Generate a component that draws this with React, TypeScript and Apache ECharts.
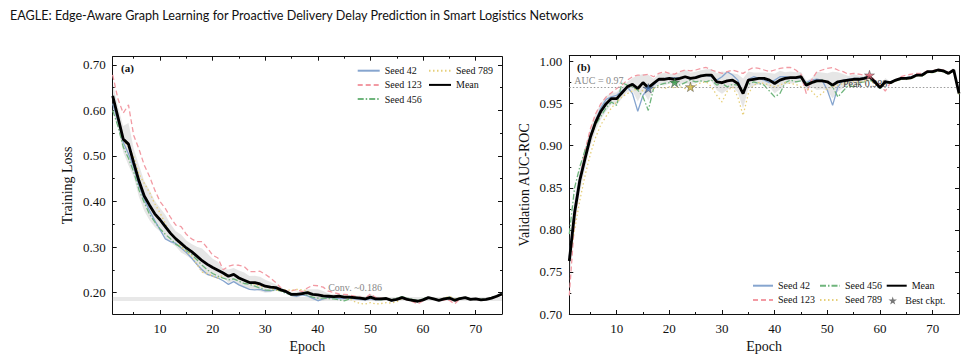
import React, { useEffect, useRef } from 'react';
import * as echarts from 'echarts';

const EPOCHS = Array.from({ length: 75 }, (_, i) => i + 1);

const LOSS_SEED42 = [0.615, 0.575, 0.530, 0.505, 0.475, 0.435, 0.405, 0.380, 0.358, 0.338, 0.318, 0.312, 0.308, 0.298, 0.288, 0.276, 0.262, 0.250, 0.240, 0.236, 0.232, 0.226, 0.218, 0.224, 0.217, 0.212, 0.207, 0.206, 0.207, 0.204, 0.204, 0.207, 0.205, 0.200, 0.194, 0.192, 0.195, 0.193, 0.188, 0.182, 0.186, 0.190, 0.188, 0.187, 0.187, 0.188, 0.186, 0.185, 0.184, 0.186, 0.184, 0.185, 0.186, 0.182, 0.184, 0.188, 0.186, 0.183, 0.182, 0.184, 0.188, 0.186, 0.183, 0.185, 0.188, 0.184, 0.186, 0.189, 0.186, 0.186, 0.183, 0.185, 0.188, 0.193, 0.198];
const LOSS_SEED123 = [0.678, 0.625, 0.594, 0.612, 0.545, 0.515, 0.480, 0.455, 0.425, 0.400, 0.385, 0.365, 0.348, 0.345, 0.328, 0.318, 0.312, 0.312, 0.298, 0.282, 0.276, 0.250, 0.258, 0.261, 0.260, 0.257, 0.246, 0.246, 0.247, 0.240, 0.232, 0.222, 0.210, 0.203, 0.204, 0.207, 0.202, 0.210, 0.216, 0.215, 0.212, 0.203, 0.200, 0.197, 0.196, 0.195, 0.192, 0.190, 0.188, 0.197, 0.189, 0.188, 0.185, 0.184, 0.186, 0.188, 0.184, 0.180, 0.175, 0.182, 0.189, 0.186, 0.182, 0.184, 0.183, 0.175, 0.186, 0.189, 0.185, 0.185, 0.184, 0.185, 0.188, 0.192, 0.196];
const LOSS_SEED456 = [0.600, 0.565, 0.520, 0.495, 0.465, 0.425, 0.398, 0.372, 0.355, 0.340, 0.328, 0.318, 0.306, 0.300, 0.292, 0.284, 0.272, 0.260, 0.250, 0.242, 0.236, 0.232, 0.228, 0.230, 0.225, 0.220, 0.218, 0.214, 0.210, 0.206, 0.205, 0.206, 0.203, 0.198, 0.195, 0.196, 0.197, 0.194, 0.190, 0.188, 0.188, 0.187, 0.186, 0.184, 0.182, 0.186, 0.188, 0.189, 0.187, 0.188, 0.186, 0.184, 0.187, 0.184, 0.188, 0.191, 0.188, 0.185, 0.183, 0.186, 0.190, 0.187, 0.184, 0.187, 0.190, 0.185, 0.188, 0.190, 0.186, 0.187, 0.185, 0.186, 0.189, 0.193, 0.197];
const LOSS_SEED789 = [0.630, 0.580, 0.535, 0.520, 0.498, 0.460, 0.440, 0.420, 0.395, 0.375, 0.352, 0.330, 0.318, 0.300, 0.290, 0.280, 0.262, 0.245, 0.242, 0.236, 0.232, 0.238, 0.236, 0.240, 0.230, 0.226, 0.222, 0.218, 0.214, 0.212, 0.210, 0.206, 0.204, 0.206, 0.205, 0.207, 0.206, 0.204, 0.196, 0.194, 0.194, 0.192, 0.190, 0.190, 0.190, 0.186, 0.180, 0.176, 0.175, 0.178, 0.175, 0.176, 0.178, 0.177, 0.180, 0.187, 0.184, 0.182, 0.180, 0.184, 0.188, 0.186, 0.184, 0.188, 0.192, 0.186, 0.188, 0.189, 0.185, 0.186, 0.184, 0.185, 0.188, 0.191, 0.196];
const LOSS_MEAN = [0.632, 0.585, 0.537, 0.526, 0.485, 0.445, 0.412, 0.392, 0.373, 0.360, 0.345, 0.330, 0.318, 0.308, 0.298, 0.290, 0.280, 0.270, 0.262, 0.255, 0.249, 0.243, 0.236, 0.240, 0.232, 0.227, 0.222, 0.222, 0.219, 0.214, 0.212, 0.211, 0.206, 0.202, 0.196, 0.196, 0.198, 0.200, 0.196, 0.195, 0.193, 0.192, 0.191, 0.192, 0.190, 0.190, 0.189, 0.188, 0.186, 0.190, 0.186, 0.186, 0.187, 0.183, 0.185, 0.189, 0.185, 0.183, 0.181, 0.184, 0.189, 0.186, 0.183, 0.186, 0.188, 0.183, 0.187, 0.189, 0.185, 0.186, 0.184, 0.185, 0.188, 0.192, 0.197];

const AUC_SEED42 = [0.768, 0.825, 0.862, 0.888, 0.912, 0.930, 0.945, 0.955, 0.958, 0.960, 0.965, 0.970, 0.962, 0.941, 0.960, 0.968, 0.972, 0.978, 0.980, 0.980, 0.981, 0.980, 0.982, 0.979, 0.982, 0.983, 0.984, 0.982, 0.978, 0.982, 0.988, 0.984, 0.978, 0.962, 0.979, 0.982, 0.980, 0.978, 0.975, 0.978, 0.982, 0.982, 0.981, 0.980, 0.981, 0.975, 0.978, 0.979, 0.978, 0.966, 0.948, 0.970, 0.978, 0.979, 0.980, 0.980, 0.981, 0.982, 0.977, 0.970, 0.976, 0.976, 0.978, 0.980, 0.981, 0.982, 0.984, 0.985, 0.988, 0.988, 0.990, 0.989, 0.986, 0.990, 0.962];
const AUC_SEED123 = [0.722, 0.810, 0.860, 0.895, 0.920, 0.938, 0.950, 0.958, 0.963, 0.968, 0.972, 0.978, 0.982, 0.984, 0.984, 0.985, 0.982, 0.986, 0.988, 0.986, 0.985, 0.988, 0.990, 0.989, 0.990, 0.992, 0.993, 0.990, 0.988, 0.986, 0.988, 0.990, 0.988, 0.986, 0.990, 0.993, 0.992, 0.990, 0.988, 0.990, 0.992, 0.993, 0.993, 0.990, 0.985, 0.962, 0.978, 0.988, 0.990, 0.992, 0.993, 0.990, 0.988, 0.985, 0.986, 0.985, 0.984, 0.984, 0.978, 0.972, 0.965, 0.975, 0.978, 0.982, 0.984, 0.985, 0.986, 0.986, 0.989, 0.989, 0.991, 0.990, 0.987, 0.990, 0.963];
const AUC_SEED456 = [0.795, 0.850, 0.875, 0.895, 0.910, 0.925, 0.935, 0.945, 0.952, 0.948, 0.975, 0.972, 0.970, 0.966, 0.958, 0.942, 0.968, 0.972, 0.974, 0.975, 0.9755, 0.972, 0.975, 0.978, 0.976, 0.977, 0.976, 0.978, 0.972, 0.974, 0.970, 0.973, 0.972, 0.966, 0.973, 0.976, 0.974, 0.972, 0.965, 0.958, 0.962, 0.975, 0.978, 0.976, 0.977, 0.975, 0.974, 0.976, 0.978, 0.976, 0.970, 0.958, 0.965, 0.972, 0.970, 0.975, 0.976, 0.978, 0.975, 0.968, 0.975, 0.974, 0.977, 0.979, 0.979, 0.980, 0.983, 0.983, 0.987, 0.987, 0.989, 0.988, 0.985, 0.989, 0.961];
const AUC_SEED789 = [0.765, 0.800, 0.835, 0.865, 0.890, 0.910, 0.925, 0.935, 0.945, 0.952, 0.958, 0.962, 0.965, 0.968, 0.965, 0.966, 0.968, 0.970, 0.968, 0.970, 0.969, 0.970, 0.968, 0.970, 0.972, 0.975, 0.976, 0.970, 0.960, 0.952, 0.965, 0.970, 0.958, 0.936, 0.962, 0.972, 0.975, 0.974, 0.972, 0.970, 0.972, 0.975, 0.974, 0.973, 0.970, 0.968, 0.965, 0.958, 0.962, 0.968, 0.970, 0.972, 0.974, 0.975, 0.976, 0.975, 0.977, 0.978, 0.975, 0.970, 0.975, 0.974, 0.977, 0.979, 0.979, 0.980, 0.983, 0.983, 0.987, 0.987, 0.989, 0.988, 0.985, 0.989, 0.961];
const AUC_MEAN = [0.763, 0.820, 0.859, 0.885, 0.910, 0.928, 0.941, 0.950, 0.956, 0.956, 0.963, 0.970, 0.973, 0.968, 0.975, 0.969, 0.974, 0.979, 0.979, 0.980, 0.979, 0.980, 0.982, 0.980, 0.981, 0.983, 0.984, 0.984, 0.976, 0.975, 0.977, 0.978, 0.974, 0.962, 0.978, 0.979, 0.980, 0.980, 0.978, 0.974, 0.978, 0.980, 0.981, 0.981, 0.982, 0.972, 0.975, 0.977, 0.977, 0.976, 0.972, 0.976, 0.977, 0.978, 0.979, 0.979, 0.980, 0.982, 0.976, 0.969, 0.976, 0.975, 0.978, 0.980, 0.980, 0.981, 0.984, 0.984, 0.988, 0.988, 0.990, 0.989, 0.986, 0.990, 0.962];

const BEST_SEEDS = ['Seed 42', 'Seed 456', 'Seed 789', 'Seed 123'];
const BEST_EPOCHS = [16, 21, 24, 58];
const BEST_AUC = [0.9683, 0.9755, 0.970, 0.984];

const EPOCH_TICKS = [10, 20, 30, 40, 50, 60, 70];
const EPOCH_MINOR = [5, 15, 25, 35, 45, 55, 65];
const LOSS_TICKS = [0.2, 0.3, 0.4, 0.5, 0.6, 0.7];
const LOSS_MINOR = [0.25, 0.35, 0.45, 0.55, 0.65];
const AUC_TICKS = [0.7, 0.75, 0.8, 0.85, 0.9, 0.95, 1.0];
const AUC_MINOR = [0.725, 0.775, 0.825, 0.875, 0.925, 0.975];

const SERIF = "'Liberation Serif', 'DejaVu Serif', serif";
const SANS = "Lato, 'Liberation Sans', sans-serif";
const INK = '#111';

const SEED_STYLE: Record<string, { color: string; type: any }> = {
  'Seed 42': { color: '#86a5cf', type: 'solid' },
  'Seed 123': { color: '#f29aa3', type: [5, 3] },
  'Seed 456': { color: '#6fb57c', type: [6, 2, 1.5, 2] },
  'Seed 789': { color: '#e6cf7a', type: [1.5, 2.5] },
};
const STAR_COLORS: Record<string, string> = {
  'Seed 42': '#4a76b8',
  'Seed 123': '#e06475',
  'Seed 456': '#3c9a4e',
  'Seed 789': '#cdb43c',
};
const STAR = 'path://M50,0 L61,35 L98,35 L68,57 L79,91 L50,70 L21,91 L32,57 L2,35 L39,35 Z';

function pairs(ys: number[]) {
  return EPOCHS.map((e, i) => [e, ys[i]]);
}

function stdBand(seeds: number[][], mean: number[]) {
  const lo: number[] = [];
  const hi: number[] = [];
  mean.forEach((m, i) => {
    const vals = seeds.map((s) => s[i]);
    const avg = vals.reduce((a, b) => a + b, 0) / vals.length;
    const sd = Math.sqrt(vals.reduce((a, b) => a + (b - avg) * (b - avg), 0) / vals.length);
    lo.push(m - sd);
    hi.push(m + sd);
  });
  return { lo, hi };
}

function axesFor(gridIndex: number, ymin: number, ymax: number, yMajor: number[], yMinor: number[], yName: string) {
  const tickLine = { color: INK, width: 1 };
  const common = {
    gridIndex,
    type: 'value',
    splitLine: { show: false },
    axisLine: { show: false },
    axisTick: { show: false },
    axisLabel: { show: false },
  };
  const xc = { ...common, min: 1, max: 75 };
  const yc = { ...common, min: ymin, max: ymax };
  const xAxes = [
    {
      ...xc,
      position: 'bottom',
      axisLine: { show: true, onZero: false, lineStyle: { color: INK, width: 1 } },
      axisTick: { show: true, inside: true, length: 4, customValues: EPOCH_TICKS, lineStyle: tickLine },
      axisLabel: { show: true, customValues: EPOCH_TICKS, margin: 8, fontFamily: SERIF, fontSize: 13, color: INK },
      name: 'Epoch',
      nameLocation: 'middle',
      nameGap: 25,
      nameTextStyle: { fontFamily: SERIF, fontSize: 14, color: INK },
    },
    { ...xc, position: 'bottom', axisTick: { show: true, inside: true, length: 2, customValues: EPOCH_MINOR, lineStyle: tickLine } },
    {
      ...xc,
      position: 'top',
      axisLine: { show: true, onZero: false, lineStyle: { color: INK, width: 1 } },
      axisTick: { show: true, inside: true, length: 4, customValues: EPOCH_TICKS, lineStyle: tickLine },
    },
    { ...xc, position: 'top', axisTick: { show: true, inside: true, length: 2, customValues: EPOCH_MINOR, lineStyle: tickLine } },
  ];
  const yAxes = [
    {
      ...yc,
      position: 'left',
      axisLine: { show: true, onZero: false, lineStyle: { color: INK, width: 1 } },
      axisTick: { show: true, inside: true, length: 4, customValues: yMajor, lineStyle: tickLine },
      axisLabel: {
        show: true,
        customValues: yMajor,
        margin: 7,
        fontFamily: SERIF,
        fontSize: 13,
        color: INK,
        formatter: (v: number) => v.toFixed(2),
      },
      name: yName,
      nameLocation: 'middle',
      nameGap: 38,
      nameTextStyle: { fontFamily: SERIF, fontSize: 14, color: INK },
    },
    { ...yc, position: 'left', axisTick: { show: true, inside: true, length: 2, customValues: yMinor, lineStyle: tickLine } },
    {
      ...yc,
      position: 'right',
      axisLine: { show: true, onZero: false, lineStyle: { color: INK, width: 1 } },
      axisTick: { show: true, inside: true, length: 4, customValues: yMajor, lineStyle: tickLine },
    },
    { ...yc, position: 'right', axisTick: { show: true, inside: true, length: 2, customValues: yMinor, lineStyle: tickLine } },
  ];
  return { xAxes, yAxes };
}

function bandSeries(axisIndex: number, mean: number[], lo: number[], hi: number[]) {
  return {
    type: 'custom',
    xAxisIndex: axisIndex,
    yAxisIndex: axisIndex,
    silent: true,
    z: 1,
    clip: true,
    data: pairs(mean),
    encode: { x: 0, y: 1 },
    renderItem: (params: any, api: any) => {
      if (params.dataIndex !== 0) return null;
      const pts: number[][] = [];
      EPOCHS.forEach((e, i) => pts.push(api.coord([e, hi[i]])));
      for (let i = EPOCHS.length - 1; i >= 0; i--) pts.push(api.coord([EPOCHS[i], lo[i]]));
      return { type: 'polygon', shape: { points: pts }, style: { fill: 'rgba(150,150,150,0.24)' } };
    },
  };
}

function seedSeries(axisIndex: number, name: string, ys: number[]) {
  const st = SEED_STYLE[name];
  return {
    type: 'line',
    name,
    xAxisIndex: axisIndex,
    yAxisIndex: axisIndex,
    data: pairs(ys),
    symbol: 'none',
    z: 3,
    lineStyle: { color: st.color, width: 1.3, type: st.type },
    itemStyle: { color: st.color },
  };
}

function meanSeries(axisIndex: number, ys: number[]) {
  return {
    type: 'line',
    name: 'Mean',
    xAxisIndex: axisIndex,
    yAxisIndex: axisIndex,
    data: pairs(ys),
    symbol: 'none',
    z: 5,
    lineStyle: { color: '#000', width: 2.8 },
    itemStyle: { color: '#000' },
  };
}

const legendText = { fontFamily: SERIF, fontSize: 10, color: INK, lineHeight: 12 };
function legendCol(names: string[], left: number, top: number, itemWidth: number) {
  return {
    data: names,
    orient: 'vertical',
    left,
    top,
    itemWidth,
    itemHeight: 12,
    itemGap: 2.2,
    selectedMode: false,
    padding: 0,
    itemStyle: { opacity: 0 },
    textStyle: legendText,
  };
}

export default function App() {
  const ref = useRef<HTMLDivElement>(null);
  useEffect(() => {
    if (!ref.current) return;
    const chart = echarts.init(ref.current, undefined, { renderer: 'svg' });

    const lossSeeds = [LOSS_SEED42, LOSS_SEED123, LOSS_SEED456, LOSS_SEED789];
    const aucSeeds = [AUC_SEED42, AUC_SEED123, AUC_SEED456, AUC_SEED789];
    const lossBand = stdBand(lossSeeds, LOSS_MEAN);
    const aucBand = stdBand(aucSeeds, AUC_MEAN);

    const a = axesFor(0, 0.153, 0.718, LOSS_TICKS, LOSS_MINOR, 'Training Loss');
    const b = axesFor(1, 0.70, 1.007, AUC_TICKS, AUC_MINOR, 'Validation AUC-ROC');
    const B = 4;

    const option: any = {
      animation: false,
      backgroundColor: '#fff',
      title: {
        text: 'EAGLE: Edge-Aware Graph Learning for Proactive Delivery Delay Prediction in Smart Logistics Networks',
        left: 5,
        top: 4,
        textStyle: { fontFamily: SANS, fontSize: 12.6, fontWeight: 'normal', color: INK },
      },
      grid: [
        { left: 112.7, top: 56.7, width: 389.3, height: 257.3 },
        { left: 569.3, top: 55.7, width: 389.7, height: 258.3 },
      ],
      xAxis: [...a.xAxes, ...b.xAxes],
      yAxis: [...a.yAxes, ...b.yAxes],
      legend: [
        legendCol(['Seed 42', 'Seed 123', 'Seed 456'], 356.7, 64.7, 22),
        legendCol(['Seed 789', 'Mean'], 428, 64.7, 22),
        legendCol(['Seed 42', 'Seed 123'], 752, 279.7, 20),
        legendCol(['Seed 456', 'Seed 789'], 819, 279.7, 20),
        legendCol(['Mean'], 885.7, 279.7, 20),
        {
          data: [{ name: 'Best ckpt.', icon: STAR }],
          left: 888.5,
          top: 294.5,
          itemWidth: 15,
          itemHeight: 8,
          itemGap: 4,
          selectedMode: false,
          padding: 0,
          itemStyle: { color: '#555', borderWidth: 0 },
          textStyle: legendText,
        },
      ],
      graphic: [
        { type: 'text', left: 121, top: 62, style: { text: '(a)', font: `bold 11px ${SERIF}`, fill: INK } },
        { type: 'text', left: 577, top: 61, style: { text: '(b)', font: `bold 11px ${SERIF}`, fill: INK } },
      ],
      series: [
        bandSeries(0, LOSS_MEAN, lossBand.lo, lossBand.hi),
        {
          type: 'line',
          xAxisIndex: 0,
          yAxisIndex: 0,
          data: pairs(LOSS_MEAN),
          symbol: 'none',
          silent: true,
          z: 2,
          lineStyle: { opacity: 0 },
          markArea: {
            silent: true,
            itemStyle: { color: 'rgba(190,190,190,0.35)' },
            data: [[{ yAxis: 0.1815 }, { yAxis: 0.1905 }]],
          },
          markPoint: {
            silent: true,
            symbol: 'circle',
            symbolSize: 0,
            data: [{ coord: [41, 0.2105] }],
            label: { show: true, position: 'right', distance: 5, formatter: 'Conv. ~0.186', fontFamily: SERIF, fontSize: 10, color: '#888' },
          },
        },
        seedSeries(0, 'Seed 42', LOSS_SEED42),
        seedSeries(0, 'Seed 123', LOSS_SEED123),
        seedSeries(0, 'Seed 456', LOSS_SEED456),
        seedSeries(0, 'Seed 789', LOSS_SEED789),
        meanSeries(0, LOSS_MEAN),

        bandSeries(B, AUC_MEAN, aucBand.lo, aucBand.hi),
        {
          type: 'line',
          xAxisIndex: B,
          yAxisIndex: B,
          data: pairs(AUC_MEAN),
          symbol: 'none',
          silent: true,
          z: 2,
          lineStyle: { opacity: 0 },
          markLine: {
            silent: true,
            symbol: 'none',
            label: { show: false },
            lineStyle: { color: '#999', width: 1, type: [1.5, 2] },
            data: [{ yAxis: 0.97 }],
          },
          markPoint: {
            silent: true,
            symbol: 'circle',
            symbolSize: 0,
            data: [
              { coord: [1, 0.9774], label: { formatter: 'AUC = 0.97', color: '#888' } },
              { coord: [52, 0.9735], label: { formatter: 'Peak 0.988', color: '#444' } },
            ],
            label: { show: true, position: 'right', distance: 5, fontFamily: SERIF, fontSize: 10 },
          },
        },
        seedSeries(B, 'Seed 42', AUC_SEED42),
        seedSeries(B, 'Seed 123', AUC_SEED123),
        seedSeries(B, 'Seed 456', AUC_SEED456),
        seedSeries(B, 'Seed 789', AUC_SEED789),
        meanSeries(B, AUC_MEAN),
        {
          type: 'scatter',
          name: 'Best ckpt.',
          xAxisIndex: B,
          yAxisIndex: B,
          symbol: STAR,
          symbolKeepAspect: true,
          symbolSize: 10,
          z: 6,
          itemStyle: { color: '#555', borderColor: '#333', borderWidth: 0.5 },
          data: BEST_SEEDS.map((s, i) => ({
            value: [BEST_EPOCHS[i], BEST_AUC[i]],
            itemStyle: { color: STAR_COLORS[s], borderColor: '#333', borderWidth: 0.5 },
          })),
        },
      ],
    };
    chart.setOption(option);
    return () => chart.dispose();
  }, []);
  return <div ref={ref} style={{ position: 'absolute', left: 0, top: 0, width: 966, height: 360 }} />;
}
